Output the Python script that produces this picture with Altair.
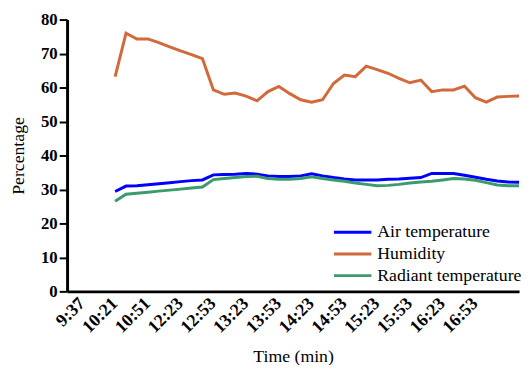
import json
import altair as alt
import pandas as pd

x_labels = ["9:37", "10:21", "10:51", "12:23", "12:53", "13:23", "13:53",
            "14:23", "14:53", "15:23", "15:53", "16:23", "16:53"]
tick_positions = [-3, 0, 3, 6, 9, 12, 15, 18, 21, 24, 27, 30, 33]

series_names = ["Air temperature", "Humidity", "Radiant temperature"]
series_colors = ["#0000FF", "#D2693A", "#3A9C6C"]

air = [29.4, 31.0, 31.1, 31.4, 31.7, 32.0, 32.3, 32.6, 32.8, 34.3,
       34.4, 34.5, 34.7, 34.5, 34.0, 33.8, 33.8, 34.0, 34.6, 34.0,
       33.5, 33.1, 32.8, 32.8, 32.8, 33.0, 33.1, 33.3, 33.5, 34.7,
       34.7, 34.7, 34.2, 33.6, 33.0, 32.5, 32.2, 32.1]
humidity = [63.2, 76.0, 74.3, 74.3, 73.2, 72.0, 70.8, 69.7, 68.5, 59.3,
            58.0, 58.4, 57.5, 56.1, 58.8, 60.3, 58.2, 56.4, 55.7, 56.4,
            61.2, 63.7, 63.2, 66.3, 65.3, 64.2, 62.7, 61.4, 62.2, 58.8,
            59.3, 59.3, 60.4, 57.0, 55.7, 57.2, 57.4, 57.5]
radiant = [26.5, 28.6, 28.9, 29.2, 29.5, 29.8, 30.1, 30.4, 30.7, 32.9,
           33.2, 33.5, 33.8, 33.9, 33.2, 33.0, 33.0, 33.2, 33.7, 33.2,
           32.8, 32.4, 31.9, 31.5, 31.1, 31.2, 31.5, 31.9, 32.2, 32.4,
           32.8, 33.2, 33.1, 32.7, 32.0, 31.3, 31.1, 31.1]

rows = []
for name, vals in zip(series_names, [air, humidity, radiant]):
    for i, v in enumerate(vals):
        rows.append({"idx": i, "value": v, "series": name})
df = pd.DataFrame(rows)

label_expr = json.dumps(x_labels) + "[round((datum.value + 3) / 3)]"

FONT = "Liberation Serif"

chart = alt.Chart(df).mark_line(strokeWidth=3).encode(
    x=alt.X("idx:Q",
            scale=alt.Scale(domain=[-4.4, 37], nice=False, zero=False),
            axis=alt.Axis(values=tick_positions, labelExpr=label_expr,
                          ticks=False, grid=False, labelAngle=-45,
                          labelAlign="right", labelBaseline="top",
                          labelPadding=3, labelOffset=-7, labelFontSize=18,
                          labelFontWeight="bold", labelFont=FONT,
                          domainWidth=3, domainColor="black",
                          labelColor="black", title="Time (min)",
                          titleFont=FONT, titleFontSize=18,
                          titleFontWeight="normal", titlePadding=12,
                          titleColor="black", labelOverlap=False)),
    y=alt.Y("value:Q",
            scale=alt.Scale(domain=[0, 80], nice=False),
            axis=alt.Axis(values=list(range(0, 81, 10)), grid=False,
                          tickSize=8, tickWidth=2, tickColor="black",
                          domainWidth=3, domainColor="black",
                          labelFontSize=17, labelFontWeight="bold",
                          labelFont=FONT, labelColor="black", labelPadding=2,
                          title="Percentage", titleFont=FONT,
                          titleFontSize=18, titleFontWeight="normal",
                          titleColor="black", titlePadding=13)),
    color=alt.Color("series:N",
                    scale=alt.Scale(domain=series_names, range=series_colors),
                    legend=alt.Legend(title=None, orient="none",
                                      legendX=281, legendY=207,
                                      symbolType="M-5,0H5",
                                      symbolStrokeWidth=3, symbolSize=58,
                                      labelFont=FONT, labelFontSize=18,
                                      labelColor="black", labelOffset=16,
                                      rowPadding=4)),
).properties(
    width=459,
    height=276,
    autosize=alt.AutoSizeParams(type="none"),
    padding={"left": 60, "top": 9, "right": 4, "bottom": 72},
).configure(font=FONT, view=alt.ViewConfig(stroke=None))

chart.save("out.html", embed_options={"renderer": "svg", "actions": False})
